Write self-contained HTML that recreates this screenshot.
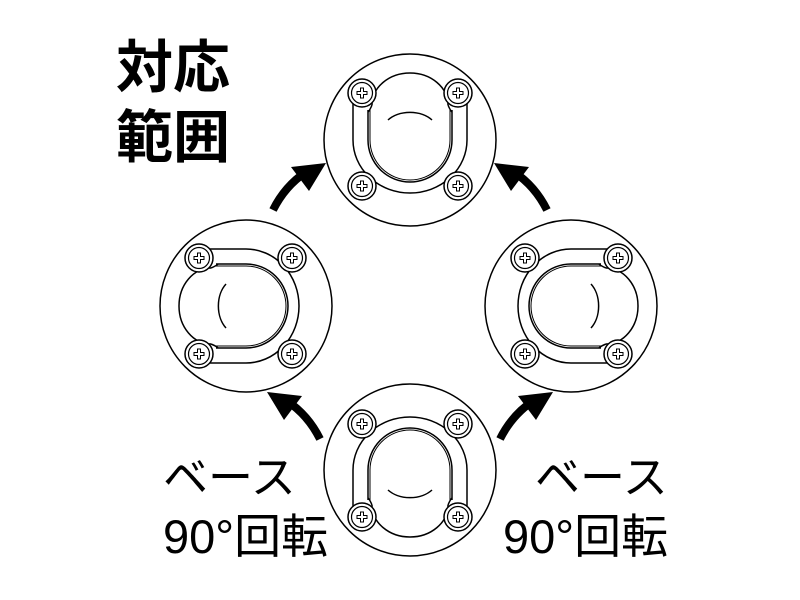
<!DOCTYPE html>
<html><head><meta charset="utf-8"><style>
html,body{margin:0;padding:0;background:#fff;width:800px;height:600px;overflow:hidden}
svg{display:block}
</style></head><body>
<svg width="800" height="600" viewBox="0 0 800 600" xmlns="http://www.w3.org/2000/svg">
<defs>
<g id="screw">
<circle r="14" fill="#fff" stroke="#000" stroke-width="1.5"/>
<circle r="10.5" fill="none" stroke="#000" stroke-width="1.2"/>
<path d="M-1.5,-5 h3 v3.5 h3.5 v3 h-3.5 v3.5 h-3 v-3.5 h-3.5 v-3 h3.5z" fill="none" stroke="#000" stroke-width="1"/>
</g>
<g id="fit" fill="none" stroke="#000" stroke-width="1.5">
<circle r="86" fill="#fff"/>
<path d="M-57,-42 V0 A57 53 0 0 0 57,0 V-42"/>
<path d="M-42,-30 V0 A42 42 0 0 0 42,0 V-30"/>
<path d="M-40,-30 V0 A40 40 0 0 0 40,0 V-30" stroke-width="1"/>
<path d="M-38,-35 A38 32 0 0 1 38,-35"/>
<path d="M-38,-35 Q-40,-30 -42,-28 M38,-35 Q40,-30 42,-28"/>
<path d="M-22,-20 A28 20 0 0 1 22,-20"/>
<use href="#screw" x="-48" y="-47"/>
<use href="#screw" x="48" y="-47"/>
<use href="#screw" x="-48" y="46"/>
<use href="#screw" x="48" y="46"/>
</g>
<g id="arr">
<path d="M273,210 Q285,186 306,172" fill="none" stroke="#000" stroke-width="8"/>
<polygon points="326,163 291,167 309,191" fill="#000"/>
</g>
</defs>
<use href="#fit" transform="translate(410,140)"/>
<use href="#fit" transform="translate(246,306) rotate(-90)"/>
<use href="#fit" transform="translate(571,306) rotate(90)"/>
<use href="#fit" transform="translate(410,470) rotate(180)"/>
<use href="#arr"/>
<use href="#arr" transform="translate(820,0) scale(-1,1)"/>
<use href="#arr" transform="translate(593,229) scale(-1,1)"/>
<use href="#arr" transform="translate(227,229)"/>
<g font-family="'Liberation Sans','Noto Sans CJK JP',sans-serif" fill="#000">
<text x="116" y="87" font-size="57" font-weight="bold">対応</text>
<text x="116" y="157" font-size="57" font-weight="bold">範囲</text>
<text x="163" y="493" font-size="45">ベース</text>
<text x="163" y="553" font-size="47">90°回転</text>
<text x="535" y="493" font-size="45">ベース</text>
<text x="503" y="553" font-size="47">90°回転</text>
</g>
</svg>
</body></html>
